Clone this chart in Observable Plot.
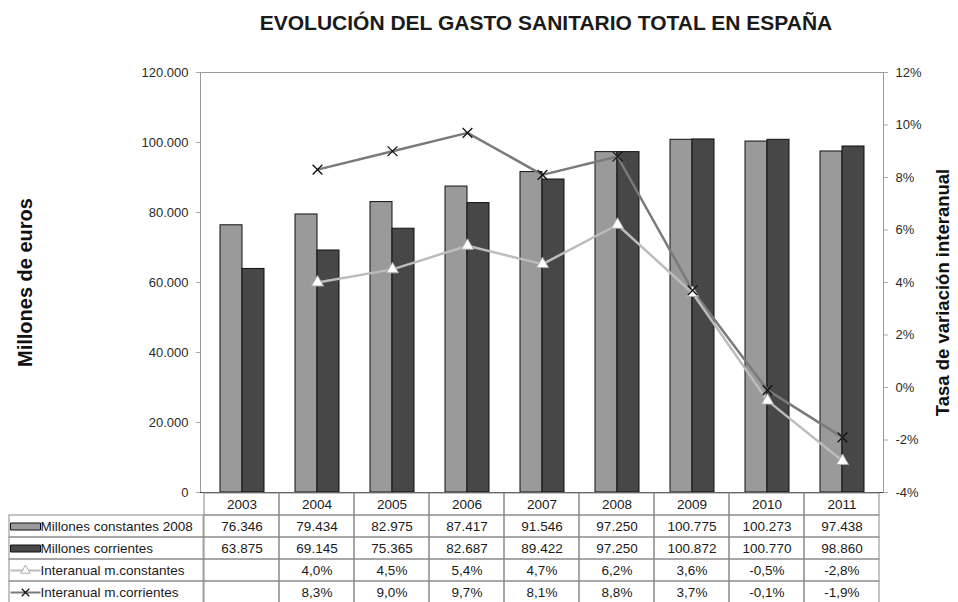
<!DOCTYPE html>
<html>
<head>
<meta charset="utf-8">
<script src="https://cdn.jsdelivr.net/npm/d3@7"></script>
<script src="https://cdn.jsdelivr.net/npm/@observablehq/plot@0.6"></script>
<style>
  html, body { margin: 0; padding: 0; background: #fff; overflow: hidden; }
  #wrap { position: relative; width: 958px; height: 602px; font-family: "Liberation Sans", Arial, sans-serif; }
  #title { margin-left: 200px; width: 692px; height: 34px; padding-top: 11px; line-height: 24px;
           text-align: center; font-weight: bold; font-size: 21px; color: #1a1a1a; white-space: nowrap; }
  #chart svg, #table svg { display: block; }
  #table { position: absolute; left: 0; top: 492px; }
</style>
</head>
<body>
<div id="wrap">
  <div id="title">EVOLUCIÓN DEL GASTO SANITARIO TOTAL EN ESPAÑA</div>
  <div id="chart"></div>
  <div id="table"></div>
</div>
<script>
// ---- Data ----
const years = ["2003", "2004", "2005", "2006", "2007", "2008", "2009", "2010", "2011"];
const constantes = [76346, 79434, 82975, 87417, 91546, 97250, 100775, 100273, 97438];
const corrientes = [63875, 69145, 75365, 82687, 89422, 97250, 100872, 100770, 98860];
const pctConstantes = [null, 4.0, 4.5, 5.4, 4.7, 6.2, 3.6, -0.5, -2.8];
const pctCorrientes = [null, 8.3, 9.0, 9.7, 8.1, 8.8, 3.7, -0.1, -1.9];
const leftTicks = [0, 20000, 40000, 60000, 80000, 100000, 120000];
const rightTicks = [-4, -2, 0, 2, 4, 6, 8, 10, 12];
const rowLabels = ["Millones constantes 2008", "Millones corrientes", "Interanual m.constantes", "Interanual m.corrientes"];
const leftTitle = "Millones de euros";
const rightTitle = "Tasa de variación interanual";

// ---- Helpers ----
const FONT = "Liberation Sans, Arial, sans-serif";
const yMax = 120000, pMin = -4, pMax = 12;
const toY = p => (p - pMin) / (pMax - pMin) * yMax;
const fromY = v => v / yMax * (pMax - pMin) + pMin;
const fmtThousands = v => v === 0 ? "0" : d3.format(",")(v).replace(/,/g, ".");
const fmtPct = v => v == null ? null : v.toFixed(1).replace(".", ",") + "%";

const W = 958, ML = 200, MR = 75;
const step = (W - ML - MR) / years.length;
const padInner = 0.42;
const bw = step * (1 - padInner);

const lightGray = "#9a9a9a", darkGray = "#474747";
const lineConst = "#bcbcbc", lineCorr = "#7a7a7a";

const rows = years.map((y, i) => ({year: y, c: constantes[i], k: corrientes[i], pc: pctConstantes[i], pk: pctCorrientes[i]}));
const lineC = rows.filter(d => d.pc != null);
const lineK = rows.filter(d => d.pk != null);

// ---- Main chart ----
const chart = Plot.plot({
  width: W, height: 460,
  marginLeft: ML, marginRight: MR, marginTop: 27, marginBottom: 13,
  style: {fontFamily: FONT, fontSize: "13px", color: "#2a2a2a", background: "white"},
  x: {type: "band", domain: years, paddingInner: padInner, paddingOuter: padInner / 2, axis: null},
  y: {domain: [0, yMax]},
  marks: [
    Plot.frame({stroke: "#9a9a9a"}),
    Plot.barY(rows, {x: "year", y: "c", fill: lightGray, stroke: "#111", strokeWidth: 1, insetRight: bw / 2}),
    Plot.barY(rows, {x: "year", y: "k", fill: darkGray, stroke: "#111", strokeWidth: 1, insetLeft: bw / 2}),
    Plot.ruleY([0], {stroke: "#444", strokeWidth: 1.2}),
    Plot.axisY(leftTicks, {anchor: "left", tickFormat: fmtThousands, tickSize: 4, tickPadding: 8, stroke: "#aaa", fill: "#2a2a2a", label: null, fontSize: 13}),
    Plot.axisY(rightTicks.map(toY), {anchor: "right", tickFormat: v => Math.round(fromY(v)) + "%", tickSize: 4, tickPadding: 8, stroke: "#aaa", fill: "#2a2a2a", label: null, fontSize: 13}),
    Plot.line(lineK, {x: "year", y: d => toY(d.pk), stroke: lineCorr, strokeWidth: 2.5}),
    Plot.line(lineC, {x: "year", y: d => toY(d.pc), stroke: lineConst, strokeWidth: 2.5}),
    Plot.dot(lineC, {x: "year", y: d => toY(d.pc), symbol: "triangle", r: 4.5, fill: "white", stroke: "#aaa", strokeWidth: 1}),
    Plot.dot(lineK, {x: "year", y: d => toY(d.pk), symbol: "times", r: 4.5, stroke: "#111", strokeWidth: 1.3}),
    Plot.text([leftTitle], {frameAnchor: "left", dx: -175, rotate: -90, textAnchor: "middle", fontSize: 20, fontWeight: "bold", fill: "#111"}),
    Plot.text([rightTitle], {frameAnchor: "right", dx: 60, dy: 10, rotate: -90, textAnchor: "middle", fontSize: 18.5, fontWeight: "bold", fill: "#111"})
  ]
});
document.getElementById("chart").appendChild(chart);

// ---- Data table ----
const rowKeys = ["h", "r1", "r2", "r3", "r4"];
const labelRows = rowLabels.map((label, i) => ({key: rowKeys[i + 1], label, kind: i}));
const swatchRect = {draw(ctx) { ctx.moveTo(-15, -3.5); ctx.lineTo(15, -3.5); ctx.lineTo(15, 3.5); ctx.lineTo(-15, 3.5); ctx.closePath(); }};
const swatchLine = {draw(ctx) { ctx.moveTo(-15, 0); ctx.lineTo(15, 0); }};
const gridCells = rowKeys.flatMap(r => years.map(y => ({r, y})));

const table = Plot.plot({
  width: W, height: 111,
  marginLeft: ML, marginRight: MR, marginTop: 0, marginBottom: 0,
  style: {fontFamily: FONT, fontSize: "13px", color: "#1a1a1a", background: "transparent"},
  x: {type: "band", domain: years, padding: 0, axis: null},
  y: {type: "band", domain: rowKeys, padding: 0, axis: null},
  marks: [
    Plot.cell(gridCells, {x: "y", y: "r", fill: "none", stroke: "#8a8a8a", strokeWidth: 1}),
    Plot.cell(labelRows, {x: () => years[0], y: "key", fill: "none", stroke: "#8a8a8a", strokeWidth: 1, insetLeft: -(ML - 5), insetRight: step}),
    Plot.text(rows, {x: "year", y: () => "h", text: "year", fill: "#1a1a1a", fontSize: 13.5}),
    Plot.text(rows, {x: "year", y: () => "r1", text: d => fmtThousands(d.c), fill: "#1a1a1a", fontSize: 13.5}),
    Plot.text(rows, {x: "year", y: () => "r2", text: d => fmtThousands(d.k), fill: "#1a1a1a", fontSize: 13.5}),
    Plot.text(rows, {x: "year", y: () => "r3", text: d => fmtPct(d.pc), fill: "#1a1a1a", fontSize: 13.5}),
    Plot.text(rows, {x: "year", y: () => "r4", text: d => fmtPct(d.pk), fill: "#1a1a1a", fontSize: 13.5}),
    Plot.text(labelRows, {y: "key", text: "label", frameAnchor: "left", dx: -(ML - 40), textAnchor: "start", fill: "#1a1a1a", fontSize: 13.5}),
    Plot.dot(labelRows.filter(d => d.kind === 0), {y: "key", frameAnchor: "left", dx: -(ML - 25), symbol: swatchRect, fill: lightGray, stroke: "#111", strokeWidth: 1}),
    Plot.dot(labelRows.filter(d => d.kind === 1), {y: "key", frameAnchor: "left", dx: -(ML - 25), symbol: swatchRect, fill: darkGray, stroke: "#111", strokeWidth: 1}),
    Plot.dot(labelRows.filter(d => d.kind === 2), {y: "key", frameAnchor: "left", dx: -(ML - 25), symbol: swatchLine, fill: "none", stroke: lineConst, strokeWidth: 2}),
    Plot.dot(labelRows.filter(d => d.kind === 3), {y: "key", frameAnchor: "left", dx: -(ML - 25), symbol: swatchLine, fill: "none", stroke: lineCorr, strokeWidth: 2}),
    Plot.dot(labelRows.filter(d => d.kind === 2), {y: "key", frameAnchor: "left", dx: -(ML - 25), symbol: "triangle", r: 3.5, fill: "white", stroke: "#aaa", strokeWidth: 1}),
    Plot.dot(labelRows.filter(d => d.kind === 3), {y: "key", frameAnchor: "left", dx: -(ML - 25), symbol: "times", r: 3.5, stroke: "#111", strokeWidth: 1.2})
  ]
});
document.getElementById("table").appendChild(table);
</script>
</body>
</html>
